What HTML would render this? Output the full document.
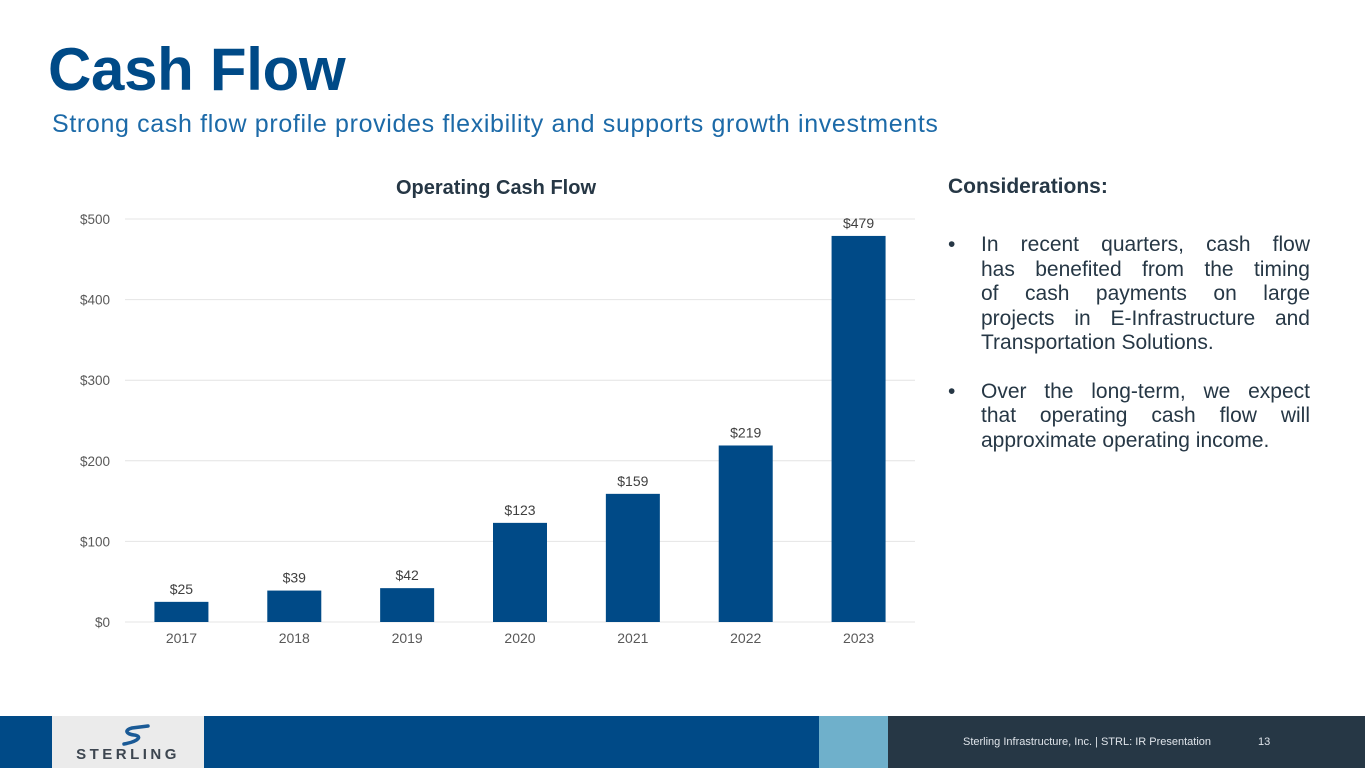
<!DOCTYPE html>
<html><head><meta charset="utf-8"><style>
body{margin:0;width:1365px;height:768px;overflow:hidden;background:#fff;font-family:"Liberation Sans",sans-serif;position:relative}
.a{position:absolute}
.j{text-align:justify;text-align-last:justify;white-space:nowrap}
.l{text-align:left;white-space:nowrap}
</style></head><body>
<div class="a" style="left:48px;top:35px;font-size:60px;font-weight:bold;color:#004a87;letter-spacing:-0.3px">Cash Flow</div>
<div class="a" style="left:52px;top:110px;font-size:25px;color:#1c6aa8;letter-spacing:0.65px">Strong cash flow profile provides flexibility and supports growth investments</div>
<svg class="a" style="left:0;top:160px" width="930" height="500">
<g id="g" transform="translate(0,-160)"></g>
</svg>
<div class="a" style="left:948px;top:175px;font-size:21px;font-weight:bold;color:#263745">Considerations:</div>
<div class="a" style="left:948px;top:233px;width:362px;font-size:21px;line-height:24.5px;color:#263745">
<div style="position:relative;padding-left:33px"><span style="position:absolute;left:0">•</span>
<div class="j">In recent quarters, cash flow</div><div class="j">has benefited from the timing</div><div class="j">of cash payments on large</div><div class="j">projects in E-Infrastructure and</div><div class="l">Transportation Solutions.</div></div>
<div style="position:relative;padding-left:33px;margin-top:24px"><span style="position:absolute;left:0">•</span>
<div class="j">Over the long-term, we expect</div><div class="j">that operating cash flow will</div><div class="l">approximate operating income.</div></div>
</div>
<div class="a" style="left:0;top:716px;width:52px;height:52px;background:#004a87"></div>
<div class="a" style="left:52px;top:716px;width:152px;height:52px;background:#ebebeb">
<svg width="152" height="52"><path d="M96 10 L80 12 C72 14,74 18,82 19 C90 20,88 25,72 28" stroke="#1a5a96" stroke-width="3.5" fill="none" stroke-linecap="round"/><text x="76" y="43" text-anchor="middle" font-size="15" font-weight="bold" fill="#3d4650" letter-spacing="3.5" font-family="Liberation Sans">STERLING</text></svg></div>
<div class="a" style="left:204px;top:716px;width:615px;height:52px;background:#004a87"></div>
<div class="a" style="left:819px;top:716px;width:69px;height:52px;background:#6fb0cb"></div>
<div class="a" style="left:888px;top:716px;width:477px;height:52px;background:#263745"></div>
<div class="a" style="left:963px;top:736px;font-size:11px;color:#dfe4ea">Sterling Infrastructure, Inc. | STRL:  IR Presentation</div>
<div class="a" style="left:1258px;top:736px;font-size:11px;color:#dfe4ea">13</div>
<script>
const categories=["2017","2018","2019","2020","2021","2022","2023"];
const values=[25,39,42,123,159,219,479];
const valueLabels=["$25","$39","$42","$123","$159","$219","$479"];
const yTicks=[0,100,200,300,400,500];
const yTickLabels=["$0","$100","$200","$300","$400","$500"];
const NS="http://www.w3.org/2000/svg",g=document.getElementById('g');
const x0=125,x1=915,yb=622,yt=219,band=(x1-x0)/categories.length;
const y=v=>yb-(v/500)*(yb-yt);
const xc=i=>x0+band*(i+0.5);
function mk(t,a,txt){const e=document.createElementNS(NS,t);for(const k in a)e.setAttribute(k,a[k]);if(txt!=null)e.textContent=txt;g.appendChild(e);return e;}
const title=mk('text',{x:496,y:194,'text-anchor':'middle','font-size':20,'font-weight':'bold',fill:'#263745'},'Operating Cash Flow');


yTicks.forEach((t,i)=>{
const l=mk('line',{x1:x0,x2:x1,y1:y(t),y2:y(t),stroke:'#e4e4e4','stroke-width':1});


const tx=mk('text',{x:110,y:y(t)+5,'text-anchor':'end','font-size':13.5,fill:'#595959'},yTickLabels[i]);


});
categories.forEach((c,i)=>{
const w=54;
const r=mk('rect',{x:xc(i)-w/2,y:y(values[i]),width:w,height:yb-y(values[i]),fill:'#004a87'});


const vl=mk('text',{x:xc(i),y:y(values[i])-8,'text-anchor':'middle','font-size':14,fill:'#404040'},valueLabels[i]);


const xl=mk('text',{x:xc(i),y:643,'text-anchor':'middle','font-size':14,fill:'#595959'},c);


});
</script>
</body></html>
